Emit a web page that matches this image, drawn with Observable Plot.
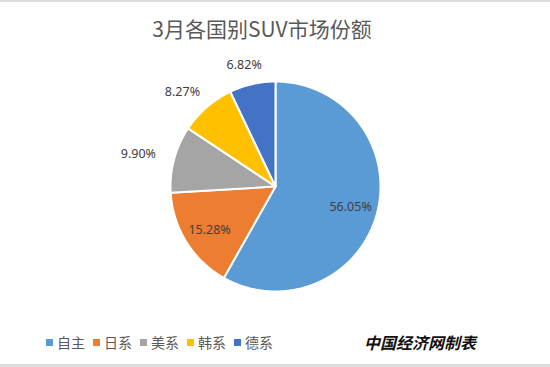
<!DOCTYPE html>
<html>
<head>
<meta charset="utf-8">
<script src="https://cdn.jsdelivr.net/npm/d3@7"></script>
<script src="https://cdn.jsdelivr.net/npm/@observablehq/plot@0.6"></script>
<style>
  html, body { margin: 0; padding: 0; background: #fff; }
  #frame { position: relative; width: 550px; height: 367px; box-sizing: border-box;
           border-top: 2px solid #dcdcdc; border-bottom: 3px solid #dcdcdc; overflow: hidden;
           font-family: "Noto Sans CJK SC", "Noto Sans", sans-serif; }
  #title { height: 48px; line-height: 52px; text-align: center; font-size: 21px; color: #595959;
           padding-right: 26px; }
  #legend { position: absolute; left: 46px; top: 328px; height: 24px; display: flex; align-items: center;
            font-size: 14px; color: #595959; }
  .item { display: flex; align-items: center; margin-right: 8px; }
  .sw { width: 7px; height: 7px; margin-right: 4px; }
  #caption { position: absolute; left: 364px; top: 328px; height: 24px; line-height: 24px;
             font-size: 16px; font-weight: bold; font-style: italic; color: #111; }
</style>
</head>
<body>
<div id="frame">
  <div id="title"></div>
  <div id="chart"></div>
  <div id="legend"></div>
  <div id="caption"></div>
</div>
<script>
const titleText = "3月各国别SUV市场份额";
const captionText = "中国经济网制表";
const categories = ["自主", "日系", "美系", "韩系", "德系"];
const shares = [56.05, 15.28, 9.90, 8.27, 6.82];
const colors = ["#5B9BD5", "#ED7D31", "#A5A5A5", "#FFC000", "#4472C4"];

// layout
const W = 550, H = 272, R = 105, CX = 275, CY = 136;

const arcs = d3.pie().sort(null).value(d => d)(shares);

// slice outlines in unit-circle coordinates (y up)
const pts = [];
arcs.forEach((a, i) => {
  const cat = categories[i];
  pts.push({cat, x: 0, y: 0});
  const n = Math.max(2, Math.ceil((a.endAngle - a.startAngle) / 0.01));
  for (let k = 0; k <= n; k++) {
    const t = a.startAngle + (a.endAngle - a.startAngle) * k / n;
    pts.push({cat, x: Math.sin(t), y: Math.cos(t)});
  }
  pts.push({cat, x: 0, y: 0});
});

// label placement
const labels = arcs.map((a, i) => {
  const m = (a.startAngle + a.endAngle) / 2;
  const frac = (a.endAngle - a.startAngle) / (2 * Math.PI);
  let rx, ry;
  if (frac > 0.12) { rx = 0.74; ry = 0.78; }
  else { rx = 142 / R; ry = 125 / R; }
  return {x: rx * Math.sin(m), y: ry * Math.cos(m), text: shares[i].toFixed(2) + "%"};
});

document.getElementById("title").textContent = titleText;
document.getElementById("caption").textContent = captionText;

const chart = Plot.plot({
  width: W, height: H, margin: 0,
  x: {domain: [-CX / R, (W - CX) / R], axis: null},
  y: {domain: [-(H - CY) / R, CY / R], axis: null},
  color: {domain: categories, range: colors},
  marks: [
    Plot.line(pts, {x: "x", y: "y", z: "cat", fill: "cat", stroke: "white", strokeWidth: 2, curve: "linear", strokeLinejoin: "round"}),
    Plot.text(labels, {x: "x", y: "y", text: "text", fontSize: 12.5, fill: "#404040", fontFamily: "Noto Sans, sans-serif"})
  ]
});
document.getElementById("chart").appendChild(chart);

const legend = document.getElementById("legend");
categories.forEach((c, i) => {
  const item = document.createElement("div");
  item.className = "item";
  const sw = document.createElement("div");
  sw.className = "sw";
  sw.style.background = colors[i];
  const t = document.createElement("span");
  t.textContent = c;
  item.appendChild(sw); item.appendChild(t);
  legend.appendChild(item);
});
</script>
</body>
</html>
